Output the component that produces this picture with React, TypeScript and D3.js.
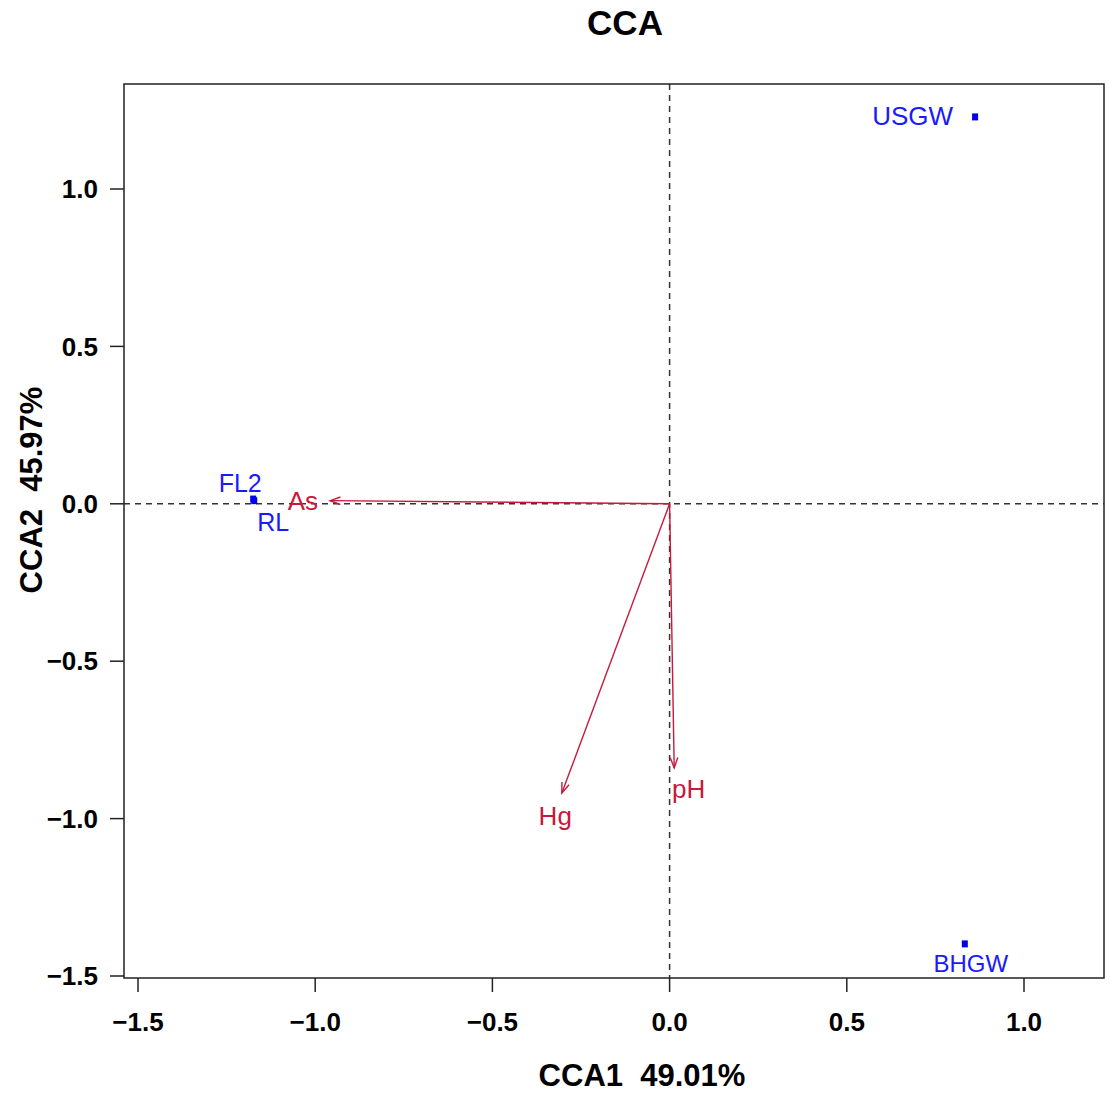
import React from 'react';
import * as d3 from 'd3';

// site scores
const sites = ['USGW', 'BHGW', 'FL2', 'RL'];
const siteCCA1 = [0.862, 0.833, -1.175, -1.172];
const siteCCA2 = [1.229, -1.398, 0.015, 0.01];

// environmental vectors
const envVars = ['As', 'Hg', 'pH'];
const envCCA1 = [-0.958, -0.304, 0.013];
const envCCA2 = [0.01, -0.919, -0.839];

const xTicks = [-1.5, -1.0, -0.5, 0.0, 0.5, 1.0];
const yTicks = [-1.5, -1.0, -0.5, 0.0, 0.5, 1.0];

const W = 1110;
const H = 1099;
const box = { left: 124, right: 1104, top: 84, bottom: 978 };

// label nudges (px) relative to point
const siteLabel: Record<string, { dx: number; dy: number; anchor: string; size: number }> = {
  USGW: { dx: -22, dy: 8, anchor: 'end', size: 26 },
  BHGW: { dx: 6, dy: 28, anchor: 'middle', size: 24 },
  FL2: { dx: -13, dy: -7, anchor: 'middle', size: 25 },
  RL: { dx: 19, dy: 30, anchor: 'middle', size: 25 },
};
const envNudge: Record<string, number> = { As: 0, Hg: 2, pH: 14 };

const font = '"Liberation Sans", Arial, Helvetica, sans-serif';
const siteColor = '#1a1aff';
const envColor = '#c8193c';

export default function App() {
  document.body.style.margin = '0';

  const x = d3.scaleLinear().domain([-1.5, 1.0]).range([138, 1024]);
  const y = d3.scaleLinear().domain([-1.5, 1.0]).range([976, 189]);

  const arrowHead = (x1: number, y1: number, x2: number, y2: number) => {
    const ang = Math.atan2(y2 - y1, x2 - x1);
    const len = 11;
    const spread = Math.PI / 9;
    const p1 = [x2 - len * Math.cos(ang - spread), y2 - len * Math.sin(ang - spread)];
    const p2 = [x2 - len * Math.cos(ang + spread), y2 - len * Math.sin(ang + spread)];
    return `M${p1[0]},${p1[1]}L${x2},${y2}L${p2[0]},${p2[1]}`;
  };

  const x0 = x(0);
  const y0 = y(0);
  const fmt = (t: number) => d3.format('.1f')(t).replace('-', '\u2212');

  return (
    <svg width={W} height={H} style={{ display: 'block', background: '#fff' }} fontFamily={font}>
      {/* title */}
      <text x={625} y={35} textAnchor="middle" fontSize={35} fontWeight="bold">CCA</text>

      {/* zero lines */}
      <line x1={box.left} x2={box.right} y1={y0} y2={y0} stroke="#333" strokeWidth={1.5} strokeDasharray="6,5" />
      <line x1={x0} x2={x0} y1={box.top} y2={box.bottom} stroke="#333" strokeWidth={1.5} strokeDasharray="6,5" />

      {/* plot box */}
      <rect x={box.left} y={box.top} width={box.right - box.left} height={box.bottom - box.top} fill="none" stroke="#222" strokeWidth={1.5} />

      {/* x axis */}
      {xTicks.map((t) => (
        <g key={'x' + t}>
          <line x1={x(t)} x2={x(t)} y1={box.bottom} y2={box.bottom + 14} stroke="#222" strokeWidth={1.5} />
          <text x={x(t)} y={1031} textAnchor="middle" fontSize={26} fontWeight="bold">
            {fmt(t)}
          </text>
        </g>
      ))}
      {/* y axis */}
      {yTicks.map((t) => (
        <g key={'y' + t}>
          <line x1={box.left - 14} x2={box.left} y1={y(t)} y2={y(t)} stroke="#222" strokeWidth={1.5} />
          <text x={98} y={y(t)} dy="0.35em" textAnchor="end" fontSize={26} fontWeight="bold">
            {fmt(t)}
          </text>
        </g>
      ))}

      <text x={642} y={1086} textAnchor="middle" fontSize={31} fontWeight="bold" style={{ whiteSpace: 'pre' }}>
        {'CCA1  49.01%'}
      </text>
      <text
        transform={`translate(42,490) rotate(-90)`}
        textAnchor="middle"
        fontSize={31}
        fontWeight="bold"
        style={{ whiteSpace: 'pre' }}
      >
        {'CCA2  45.97%'}
      </text>

      {/* env arrows */}
      {envVars.map((v, i) => {
        const tx = x(envCCA1[i]);
        const ty = y(envCCA2[i]);
        const lx = x(envCCA1[i] * 1.08) + envNudge[v];
        const ly = y(envCCA2[i] * 1.08);
        return (
          <g key={v}>
            <line x1={x0} y1={y0} x2={tx} y2={ty} stroke={envColor} strokeWidth={1.4} />
            <path d={arrowHead(x0, y0, tx, ty)} fill="none" stroke={envColor} strokeWidth={1.4} />
            <text x={lx} y={ly} dy="0.35em" textAnchor="middle" fontSize={26} fill={envColor}>
              {v}
            </text>
          </g>
        );
      })}

      {/* sites */}
      {sites.map((s, i) => {
        const px = x(siteCCA1[i]);
        const py = y(siteCCA2[i]);
        const l = siteLabel[s];
        return (
          <g key={s}>
            <rect x={px - 3} y={py - 3.5} width={6} height={7} fill="#0000ee" />
            <text x={px + l.dx} y={py + l.dy} textAnchor={l.anchor} fontSize={l.size} fill={siteColor}>
              {s}
            </text>
          </g>
        );
      })}
    </svg>
  );
}
